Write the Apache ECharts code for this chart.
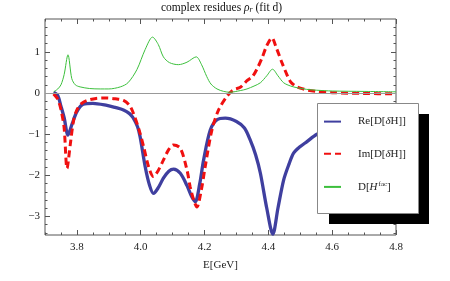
<!DOCTYPE html>
<html><head><meta charset="utf-8">
<script src="https://cdn.jsdelivr.net/npm/echarts@6/dist/echarts.min.js"></script>
<style>html,body{margin:0;padding:0;background:#fff}#c{width:450px;height:281px}</style>
</head><body><div id="c"></div>
<script>
// ---- data ----
const reX = [3.727,3.74,3.75,3.76,3.772,3.785,3.80,3.82,3.85,3.894,3.92,3.946,3.965,3.976,3.99,3.998,4.014,4.028,4.04,4.055,4.071,4.088,4.103,4.124,4.145,4.16,4.171,4.185,4.197,4.218,4.239,4.265,4.30,4.325,4.343,4.36,4.375,4.395,4.414,4.43,4.448,4.465,4.479,4.50,4.521,4.552,4.6,4.7,4.8];
const reY = [0.02,-0.06,-0.32,-0.6,-1.02,-0.75,-0.45,-0.27,-0.25,-0.30,-0.35,-0.41,-0.50,-0.6,-0.82,-1.06,-1.79,-2.25,-2.44,-2.3,-2.07,-1.9,-1.85,-1.95,-2.25,-2.52,-2.64,-2.2,-1.63,-0.9,-0.65,-0.61,-0.69,-0.85,-1.14,-1.5,-1.95,-2.8,-3.43,-2.8,-2.11,-1.72,-1.46,-1.30,-1.18,-1.0,-0.85,-0.65,-0.5];
const imX = [3.727,3.74,3.75,3.76,3.769,3.78,3.79,3.80,3.815,3.831,3.86,3.894,3.92,3.946,3.965,3.977,3.995,4.009,4.025,4.04,4.055,4.071,4.088,4.103,4.124,4.145,4.155,4.166,4.176,4.19,4.202,4.223,4.244,4.27,4.291,4.312,4.333,4.35,4.364,4.38,4.395,4.411,4.425,4.443,4.458,4.469,4.485,4.50,4.525,4.552,4.6,4.7,4.8];
const imY = [-0.02,-0.15,-0.4,-0.85,-1.83,-1.2,-0.65,-0.41,-0.25,-0.18,-0.13,-0.12,-0.14,-0.18,-0.3,-0.49,-0.9,-1.3,-1.8,-2.03,-1.88,-1.63,-1.37,-1.26,-1.34,-1.87,-2.28,-2.6,-2.77,-2.35,-1.79,-0.9,-0.41,-0.08,0.08,0.14,0.3,0.4,0.58,0.85,1.15,1.34,1.1,0.73,0.45,0.28,0.17,0.12,0.07,0.04,0.01,-0.01,-0.02];
const facX = [3.727,3.74,3.75,3.76,3.772,3.784,3.795,3.81,3.84,3.873,3.90,3.936,3.96,3.988,4.014,4.037,4.055,4.071,4.09,4.118,4.145,4.174,4.19,4.207,4.22,4.239,4.26,4.28,4.312,4.333,4.355,4.375,4.395,4.413,4.43,4.448,4.47,4.49,4.52,4.55,4.6,4.7,4.8];
const facY = [0.03,0.1,0.2,0.45,0.93,0.35,0.2,0.15,0.11,0.10,0.10,0.15,0.25,0.57,1.06,1.36,1.18,0.88,0.74,0.69,0.75,0.88,0.7,0.40,0.22,0.1,0.04,0.02,0.06,0.1,0.17,0.25,0.42,0.58,0.42,0.25,0.17,0.13,0.09,0.07,0.05,0.04,0.03];
const xMajor = [3.8,4.0,4.2,4.4,4.6,4.8];
const xMinor = [3.7,3.75,3.85,3.9,3.95,4.05,4.1,4.15,4.25,4.3,4.35,4.45,4.5,4.55,4.65,4.7,4.75];
const yMajor = [-3,-2,-1,0,1];
const yMinor = [-3.4,-3.2,-2.8,-2.6,-2.4,-2.2,-1.8,-1.6,-1.4,-1.2,-0.8,-0.6,-0.4,-0.2,0.2,0.4,0.6,0.8,1.2,1.4,1.6];
const names = ['Re[D[δH]]','Im[D[δH]]','D[Hfac]'];

const zip = (a,b)=>a.map((v,i)=>[v,b[i]]);
const FONT = 'Liberation Serif';
const frame = '#555';
const xBase = {type:'value',min:3.7,max:4.8,splitLine:{show:false},axisLine:{show:false,onZero:false}};
const yBase = {type:'value',min:-3.45,max:1.8,splitLine:{show:false},axisLine:{show:false,onZero:false}};
const tick = (vals,len)=>({show:true,inside:true,length:len,customValues:vals,lineStyle:{color:frame,width:1}});
const noLab = {show:false};

const chart = echarts.init(document.getElementById('c'),null,{renderer:'canvas'});
chart.setOption({
  animation:false,
  title:{text:'complex residues {i|ρ}{s|r} (fit d)',left:161,top:1,padding:0,
    textStyle:{fontFamily:FONT,fontSize:11.5,fontWeight:'normal',color:'#111',
      rich:{i:{fontFamily:FONT,fontStyle:'italic',fontSize:11.5,color:'#111'},
            s:{fontFamily:FONT,fontStyle:'italic',fontSize:8,color:'#111',padding:[5,0,0,0]}}}},
  grid:{left:45,right:54,top:19,bottom:46,show:true,borderColor:frame,borderWidth:1,backgroundColor:'transparent'},
  xAxis:[
    Object.assign({},xBase,{position:'bottom',axisTick:tick(xMajor,5),
      axisLabel:{customValues:xMajor,margin:7,fontFamily:FONT,fontSize:11,color:'#222',formatter:v=>v.toFixed(1)},
      name:'E[GeV]',nameLocation:'middle',nameGap:25,nameTextStyle:{fontFamily:FONT,fontSize:11,color:'#222'}}),
    Object.assign({},xBase,{position:'bottom',axisTick:tick(xMinor,2.5),axisLabel:noLab}),
    Object.assign({},xBase,{position:'top',axisTick:tick(xMajor,5),axisLabel:noLab}),
    Object.assign({},xBase,{position:'top',axisTick:tick(xMinor,2.5),axisLabel:noLab})
  ],
  yAxis:[
    Object.assign({},yBase,{position:'left',axisTick:tick(yMajor,5),
      axisLabel:{customValues:yMajor,margin:5,fontFamily:FONT,fontSize:11,color:'#222',formatter:v=>(v<0?'\u2212'+(-v):String(v))}}),
    Object.assign({},yBase,{position:'left',axisTick:tick(yMinor,2.5),axisLabel:noLab}),
    Object.assign({},yBase,{position:'right',axisTick:tick(yMajor,5),axisLabel:noLab}),
    Object.assign({},yBase,{position:'right',axisTick:tick(yMinor,2.5),axisLabel:noLab})
  ],
  legend:{data:names,orient:'vertical',left:323,top:116,padding:0,itemWidth:17,itemHeight:14,itemGap:21,
    zlevel:1,z:10,selectedMode:false,itemStyle:{opacity:0},
    formatter:n=>n==='Re[D[δH]]'?'Re[D[{i|δ}H]]':n==='Im[D[δH]]'?'Im[D[{i|δ}H]]':'D[{i|H}{sup|fac}]',
    textStyle:{fontFamily:FONT,fontSize:11,color:'#222',padding:[0,0,0,12],
      rich:{i:{fontFamily:FONT,fontStyle:'italic',fontSize:11,color:'#222'},
            sup:{fontFamily:FONT,fontSize:7,color:'#222',padding:[0,0,6,1]}}}},
  graphic:[
    {type:'rect',zlevel:1,z:0,shape:{x:329,y:114,width:100,height:110},style:{fill:'#000'}},
    {type:'rect',zlevel:1,z:1,shape:{x:317.5,y:103.5,width:101,height:110},style:{fill:'#fff',stroke:'#888',lineWidth:1}}
  ],
  series:[
    {name:names[0],type:'line',data:zip(reX,reY),symbol:'none',smooth:0.3,
     lineStyle:{color:'#3f3f9f',width:3.3},itemStyle:{color:'#3f3f9f',opacity:0},
     markLine:{silent:true,symbol:'none',label:{show:false},data:[{yAxis:0}],lineStyle:{color:'#999',width:1,type:'solid'}}},
    {name:names[1],type:'line',data:zip(imX,imY),symbol:'none',smooth:0.3,
     lineStyle:{color:'#f01010',width:3,type:[7,4]},itemStyle:{color:'#f01010',opacity:0}},
    {name:names[2],type:'line',data:zip(facX,facY),symbol:'none',smooth:0.3,
     lineStyle:{color:'#3cbf3c',width:1},itemStyle:{color:'#3cbf3c',opacity:0}}
  ]
});
</script></body></html>
